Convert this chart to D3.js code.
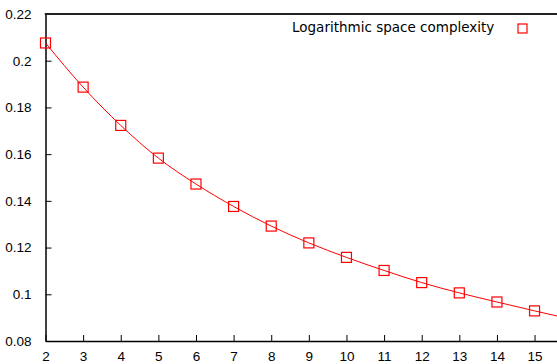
<!DOCTYPE html>
<html lang="en">
  <head>
    <meta charset="utf-8">
    <script src="https://d3js.org/d3.v7.min.js"></script>
    <title>Logarithmic space complexity</title>
    <style>
      body { margin: 0; background-color: #ffffff; }
      svg { display: block; font-family: "DejaVu Sans", sans-serif; }
      .tick text { font-size: 13.5px; fill: #000; }
      .legend { font-size: 13.5px; fill: #000; }
    </style>
  </head>
  <body>
    <div class="chartHolder"></div>
    <script>
      // measured points (squares)
      const xValues = [2, 3, 4, 5, 6, 7, 8, 9, 10, 11, 12, 13, 14, 15];
      const yValues = [0.2076, 0.1887, 0.1723, 0.1583, 0.1472, 0.1376, 0.1292,
                       0.1220, 0.1158, 0.1102, 0.1050, 0.1006, 0.0967, 0.0929];
      // fitted curve
      const curveX = [2, 3, 4, 5, 6, 7, 8, 9, 10, 11, 12, 13, 14, 15, 15.6];
      const curveY = [0.2076, 0.1887, 0.1723, 0.1583, 0.1472, 0.1376, 0.1292,
                      0.1220, 0.1158, 0.1102, 0.1050, 0.1006, 0.0967, 0.0929, 0.0907];
      const xTicks = [2, 3, 4, 5, 6, 7, 8, 9, 10, 11, 12, 13, 14, 15];
      const yTicks = [0.08, 0.1, 0.12, 0.14, 0.16, 0.18, 0.2, 0.22];
      const legendLabel = 'Logarithmic space complexity';

      const svgSize = {'width': 557, 'height': 364};
      const plot = {'left': 45.5, 'top': 14, 'bottom': 341};

      let svg = d3.select('.chartHolder')
        .append('svg')
        .attr('width', svgSize.width)
        .attr('height', svgSize.height);

      let xScale = d3.scaleLinear()
        .domain([2, 16])
        .range([plot.left, plot.left + 14 * 37.62]);
      let yScale = d3.scaleLinear()
        .domain([0.08, 0.22])
        .range([plot.bottom, plot.top]);

      let xAxis = d3.axisBottom(xScale)
        .tickValues(xTicks)
        .tickFormat(d3.format('d'))
        .tickSizeInner(-6)
        .tickSizeOuter(0)
        .tickPadding(14);
      let yAxis = d3.axisLeft(yScale)
        .tickValues(yTicks)
        .tickFormat((d) => String(+d.toFixed(2)))
        .tickSizeInner(-6)
        .tickSizeOuter(0)
        .tickPadding(14);

      let gx = svg.append('g')
        .attr('transform', 'translate(0,' + plot.bottom + ')')
        .call(xAxis);
      let gy = svg.append('g')
        .attr('transform', 'translate(' + plot.left + ',0)')
        .call(yAxis);
      svg.selectAll('.domain').attr('stroke', '#000').attr('stroke-width', 1.5);
      svg.selectAll('.tick line').attr('stroke', '#000');
      gx.selectAll('.tick text').attr('dy', '0.45em');

      // top border
      svg.append('line')
        .attr('x1', plot.left - 0.75).attr('x2', svgSize.width)
        .attr('y1', plot.top).attr('y2', plot.top)
        .attr('stroke', '#222').attr('stroke-width', 2);

      let points = xValues.map((x, i) => [x, yValues[i]]);
      let curve = curveX.map((x, i) => [x, curveY[i]]);

      let line = d3.line()
        .x((d) => xScale(d[0]))
        .y((d) => yScale(d[1]))
        .curve(d3.curveMonotoneX);

      svg.append('path')
        .datum(curve)
        .attr('fill', 'none')
        .attr('stroke', '#ff0000')
        .attr('stroke-width', 1)
        .attr('d', line);

      const sq = 10;
      svg.selectAll('rect.pt')
        .data(points)
        .enter()
        .append('rect')
          .attr('class', 'pt')
          .attr('x', (d) => xScale(d[0]) - sq / 2)
          .attr('y', (d) => yScale(d[1]) - sq / 2)
          .attr('width', sq)
          .attr('height', sq)
          .attr('fill', 'none')
          .attr('stroke', '#ff0000')
          .attr('stroke-width', 1.2);

      // legend
      svg.append('text')
        .attr('class', 'legend')
        .attr('x', 292)
        .attr('y', 32)
        .text(legendLabel);
      svg.append('rect')
        .attr('x', 518).attr('y', 24)
        .attr('width', 9).attr('height', 9)
        .attr('fill', 'none')
        .attr('stroke', '#ff0000')
        .attr('stroke-width', 1.2);
    </script>
  </body>
</html>
